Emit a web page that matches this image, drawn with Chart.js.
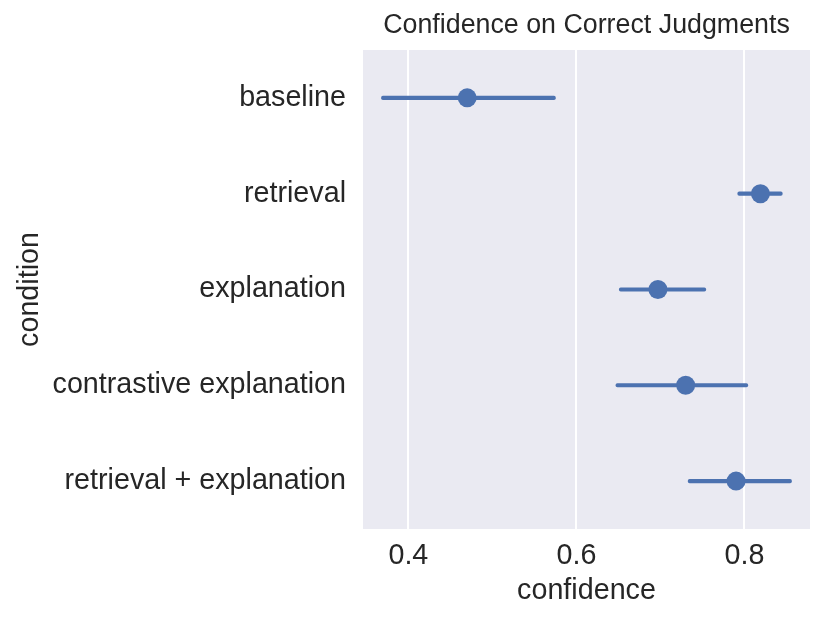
<!DOCTYPE html>
<html>
<head>
<meta charset="utf-8">
<script src="https://cdn.jsdelivr.net/npm/chart.js@4.4.1/dist/chart.umd.min.js"></script>
<style>
html,body{margin:0;padding:0;background:#fff;}
#wrap{width:830px;height:623px;position:relative;}
</style>
</head>
<body>
<div id="wrap"><canvas id="c"></canvas></div>
<script>
const conditions = ["baseline", "retrieval", "explanation", "contrastive explanation", "retrieval + explanation"];
const meanConfidence = [0.470, 0.819, 0.697, 0.730, 0.790];
const ciLow = [0.368, 0.792, 0.651, 0.647, 0.733];
const ciHigh = [0.575, 0.845, 0.754, 0.804, 0.856];
const xTicks = [0.4, 0.6, 0.8];

const FONT = "'Liberation Sans', Arial, sans-serif";
const TXT = '#262626';
const BLUE = '#4C72B0';

const bgPlugin = {
  id: 'bg',
  beforeDraw(chart) {
    const a = chart.chartArea, ctx = chart.ctx;
    ctx.save();
    ctx.fillStyle = '#EAEAF2';
    ctx.fillRect(a.left, a.top, a.right - a.left, a.bottom - a.top);
    ctx.restore();
  }
};

new Chart(document.getElementById('c'), {
  type: 'bar',
  data: {
    labels: conditions,
    datasets: [
      {
        type: 'bar',
        data: conditions.map((c, i) => [ciLow[i], ciHigh[i]]),
        backgroundColor: BLUE,
        borderWidth: 0,
        barThickness: 3.5,
        borderRadius: 2,
        borderSkipped: false,
        grouped: false,
        order: 2
      },
      {
        type: 'line',
        data: meanConfidence,
        showLine: false,
        pointRadius: 9.5,
        pointHoverRadius: 9.5,
        pointBackgroundColor: BLUE,
        pointBorderColor: BLUE,
        pointBorderWidth: 0,
        order: 1
      }
    ]
  },
  options: {
    indexAxis: 'y',
    responsive: true,
    maintainAspectRatio: false,
    animation: false,
    events: [],
    layout: { padding: { left: 0, right: 20, top: 0, bottom: 0 } },
    plugins: {
      legend: { display: false },
      tooltip: { enabled: false },
      title: {
        display: true,
        text: 'Confidence on Correct Judgments',
        fullSize: false,
        color: TXT,
        font: { family: FONT, size: 26.8, weight: 'normal', lineHeight: 1.2 },
        padding: { top: 9.4, bottom: 8.4 }
      }
    },
    scales: {
      x: {
        type: 'linear',
        min: 0.346,
        max: 0.878,
        afterBuildTicks(scale) { scale.ticks = xTicks.map(v => ({ value: v })); },
        afterFit(scale) { scale.height = 94; },
        grid: { color: '#ffffff', lineWidth: 2, drawTicks: false },
        border: { display: false },
        ticks: {
          color: TXT,
          padding: 10,
          font: { family: FONT, size: 28.7, lineHeight: 1.2 },
          callback: v => v.toFixed(1)
        },
        title: {
          display: true,
          text: 'confidence',
          color: TXT,
          font: { family: FONT, size: 28.7, lineHeight: 1.2 },
          padding: { top: 0, bottom: 15 }
        }
      },
      y: {
        type: 'category',
        offset: true,
        afterFit(scale) { scale.width = 363; },
        grid: { display: false, drawTicks: false },
        border: { display: false },
        ticks: {
          color: TXT,
          padding: 17,
          font: { family: FONT, size: 28.7, lineHeight: 1.2 }
        },
        title: {
          display: true,
          text: 'condition',
          color: TXT,
          font: { family: FONT, size: 28.7, lineHeight: 1.2 },
          padding: { top: 13, bottom: 0 }
        }
      }
    }
  },
  plugins: [bgPlugin]
});
</script>
</body>
</html>
